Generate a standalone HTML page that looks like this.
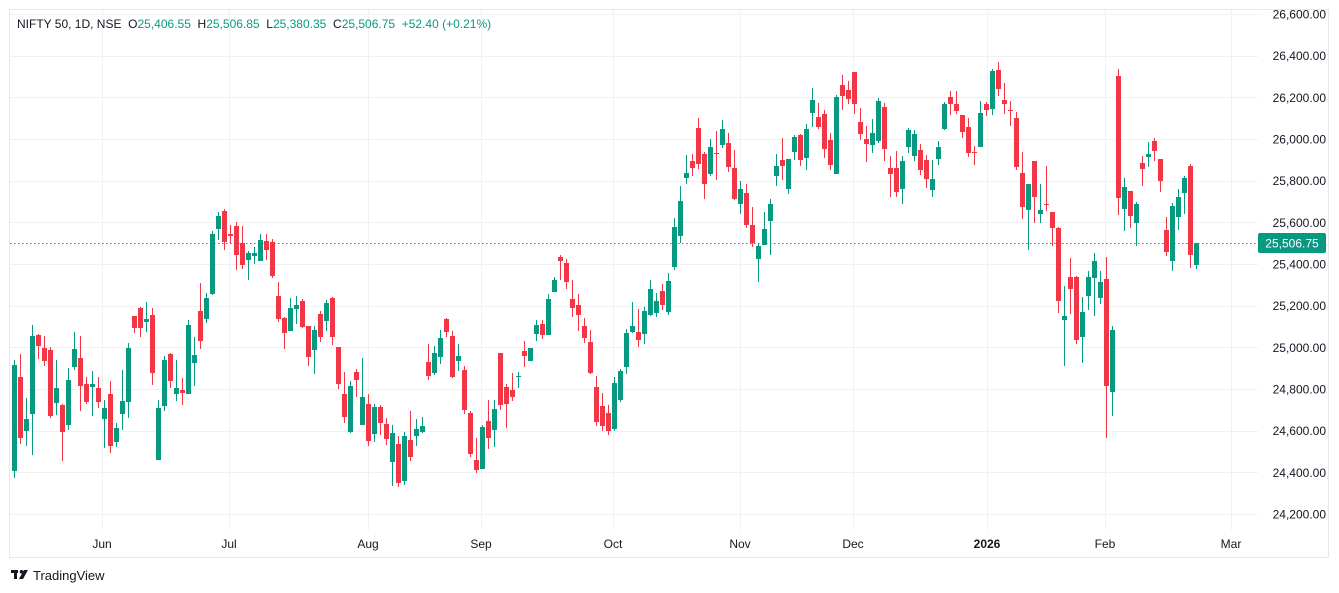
<!DOCTYPE html>
<html><head><meta charset="utf-8"><style>
html,body{margin:0;padding:0;background:#fff;width:1339px;height:593px;overflow:hidden}
svg{display:block}
text{font-family:"Liberation Sans",sans-serif}
</style></head><body>
<svg id="s" width="1339" height="593" xmlns="http://www.w3.org/2000/svg">
<rect x="9.5" y="9.5" width="1319" height="548" fill="#fff" stroke="#e8e8ea"/>
<g id="grid" stroke="#f0f1f3" stroke-width="1"></g>
<g id="c"></g>
<line x1="10" y1="243.5" x2="1258" y2="243.5" stroke="#089981" stroke-dasharray="1.5,2.5"/>
<rect x="1258" y="233" width="68" height="20" rx="2" fill="#089981"/>
<text x="1292" y="247.5" font-size="12" fill="#fff" text-anchor="middle">25,506.75</text>
<g id="lab" font-size="12" fill="#131722"></g>
<text x="17" y="28" font-size="12" fill="#131722">NIFTY 50, 1D, NSE <tspan fill="#131722">&#160;O</tspan><tspan fill="#089981">25,406.55</tspan><tspan>&#160; H</tspan><tspan fill="#089981">25,506.85</tspan><tspan>&#160; L</tspan><tspan fill="#089981">25,380.35</tspan><tspan>&#160; C</tspan><tspan fill="#089981">25,506.75 &#160;+52.40 (+0.21%)</tspan></text>
<g transform="translate(11,570)"><rect x="0" y="0" width="7" height="3" fill="#131722"/><rect x="3" y="0" width="3" height="9" fill="#131722"/><circle cx="10.5" cy="1.8" r="1.8" fill="#131722"/><polygon points="13,0 17,0 12,9 8,9" fill="#131722"/></g>
<text x="33" y="580" font-size="13" fill="#131722">TradingView</text>
</svg>
<script>
var D=[[365,471,360,478,1],[377,438,354,444,0],[419,431,398,446,1],[336,414,325,455,1],[335,346,334,359,0],[348,361,336,366,0],[350,416,347,418,0],[388,403,360,415,1],[405,432,404,461,0],[380,425,368,430,1],[349,367,332,370,1],[358,386,336,411,0],[384,402,377,404,0],[384,387,371,416,1],[388,402,377,408,0],[408,419,400,448,1],[394,446,381,453,0],[428,442,423,447,1],[401,414,370,430,1],[348,402,343,418,1],[316,328,316,333,0],[308,328,307,337,0],[319,322,302,332,1],[315,373,308,385,0],[408,460,400,460,1],[360,406,356,411,1],[354,381,353,388,0],[388,394,360,401,1],[390,393,378,405,0],[325,394,320,394,1],[355,363,337,386,1],[311,341,283,349,0],[298,319,293,323,1],[234,294,231,295,1],[216,229,212,240,1],[211,242,209,250,0],[234,236,225,244,0],
[226,255,222,270,0],[243,265,226,269,0],[253,260,251,280,1],[253,256,247,264,1],[240,261,234,261,1],[241,250,234,260,0],[242,276,239,278,0],[296,319,282,322,0],[318,333,317,349,0],[308,331,298,331,1],[305,309,296,324,1],[301,327,299,328,0],[326,357,326,366,0],[330,350,326,374,1],[314,337,311,342,0],[303,321,300,331,1],[298,337,297,345,0],[347,384,347,389,0],[394,417,372,423,0],[386,432,381,433,1],[372,380,369,397,0],[397,425,358,425,1],[404,441,394,446,0],[407,434,404,442,1],[407,423,405,435,0],[424,439,418,445,0],[433,462,425,486,1],[444,483,436,487,0],[436,481,432,485,1],[440,457,411,461,0],[429,436,419,446,1],[426,432,417,433,1],[362,376,344,380,0],[353,373,346,375,1],
[338,357,330,364,1],[319,332,318,337,0],[336,377,331,378,0],[356,361,344,371,1],[370,410,366,414,0],[413,454,411,457,0],[460,470,438,473,0],[427,469,425,469,1],[421,438,400,449,0],[409,430,400,447,1],[353,405,353,410,0],[387,404,384,428,0],[390,397,373,401,0],[376,377,372,388,1],[351,356,341,367,0],[348,361,348,361,1],[325,334,320,341,1],[324,335,320,339,0],[299,335,294,335,1],[280,292,277,292,1],[257,261,255,280,0],[263,282,259,289,0],[299,308,280,317,0],[305,315,294,331,0],[326,338,318,343,0],[342,373,330,374,0],[387,422,376,426,0],[406,426,393,431,0],[413,431,405,435,0],[383,429,377,431,1],[371,400,369,402,1],[333,367,329,374,1],[326,332,302,333,1],[332,340,309,347,0],[311,334,307,344,1],[289,315,280,316,1],[301,313,293,317,1],
[291,305,284,310,0],[281,312,273,315,1],[227,267,218,270,1],[201,236,186,243,1],[173,178,155,184,1],[161,168,154,176,0],[128,164,118,169,0],[154,184,152,199,0],[147,174,139,176,1],[153,154,131,180,0],[129,145,120,148,1],[143,167,133,172,0],[168,199,150,200,0],[189,204,181,214,1],[193,225,184,228,0],[225,243,207,247,0],[246,259,243,282,1],[229,245,212,245,1],[204,221,199,255,1],[166,176,154,186,1],[160,166,138,180,0],[159,189,159,194,1],[137,152,135,160,1],[135,160,134,166,0],[129,158,124,170,1],[100,113,88,127,1],[117,127,103,129,0],[114,149,110,158,0],[140,165,133,170,0],[97,174,95,174,1],[85,96,75,110,0],[90,99,81,104,0],[72,104,72,114,0],[122,134,108,140,0],[139,144,126,162,0],[133,145,119,153,1],[101,141,98,143,1],
[107,149,103,161,0],[168,174,156,197,0],[168,192,151,197,0],[161,189,156,204,1],[130,147,128,153,1],[134,156,130,161,1],[150,170,144,175,0],[160,179,155,188,0],[179,190,160,197,1],[147,159,141,165,1],[104,129,102,130,1],[97,104,91,115,0],[104,111,91,114,0],[115,132,115,138,0],[127,153,118,157,0],[152,153,146,165,0],[113,147,101,147,1],[104,110,102,116,0],[71,109,69,115,1],[70,89,62,96,0],[100,104,83,114,0],[110,111,101,126,0],[118,167,112,170,0],[173,207,152,219,0],[184,210,184,250,1],[161,197,161,223,0],[210,214,184,223,1],[204,205,166,211,0],[212,228,212,246,0],
[228,301,227,313,0],[316,320,286,366,1],[277,289,258,314,0],[277,340,276,344,0],[312,337,297,363,1],[277,296,271,310,1],[261,278,253,316,1],[282,298,271,304,1],[279,386,257,438,0],[330,392,326,416,1],[76,198,69,215,0],[187,209,178,231,1],[191,216,191,228,0],[204,223,202,246,1],[163,169,156,186,0],[154,157,142,167,1],[141,151,138,161,0],[159,181,159,192,0],[230,252,217,256,0],[206,261,203,271,1],[197,217,189,230,1],[178,193,176,214,1],[166,255,164,268,0],[243,265,243,269,1]];
var ns="http://www.w3.org/2000/svg",h="";
var g="";
for(var p=26600,i=0;p>=24200;p-=200,i++){var y=14+i*41.667;g+='<line x1="10" x2="1258" y1="'+(Math.round(y)+0.5)+'" y2="'+(Math.round(y)+0.5)+'"/>';}
var mx=[102,229,368,481,613,740,853,987,1105,1231];
mx.forEach(function(x){g+='<line x1="'+(x+0.5)+'" x2="'+(x+0.5)+'" y1="10" y2="530"/>';});
document.getElementById("grid").innerHTML=g;
D.forEach(function(d,i){var x=Math.round(14.3+i*6.0);var c=d[4]?"#089981":"#F23645";
var hb=Math.max(1,d[1]-d[0]);
h+='<rect x="'+x+'" y="'+d[2]+'" width="1" height="'+(d[3]-d[2])+'" fill="'+c+'"/>';
h+='<rect x="'+(x-2)+'" y="'+d[0]+'" width="5" height="'+hb+'" fill="'+c+'"/>';});
document.getElementById("c").innerHTML=h;
var l="";
for(var p=26600,i=0;p>=24200;p-=200,i++){var y=14+i*41.667;if(p==24200||p>24200){l+='<text x="1326" y="'+(y+4.5)+'" text-anchor="end">'+p.toLocaleString("en-US")+'.00</text>';}}
var ml=["Jun","Jul","Aug","Sep","Oct","Nov","Dec","2026","Feb","Mar"];
ml.forEach(function(t,i){l+='<text x="'+mx[i]+'" y="548" text-anchor="middle"'+(t=="2026"?' font-weight="bold"':'')+'>'+t+'</text>';});
document.getElementById("lab").innerHTML=l;
</script>
</body></html>
